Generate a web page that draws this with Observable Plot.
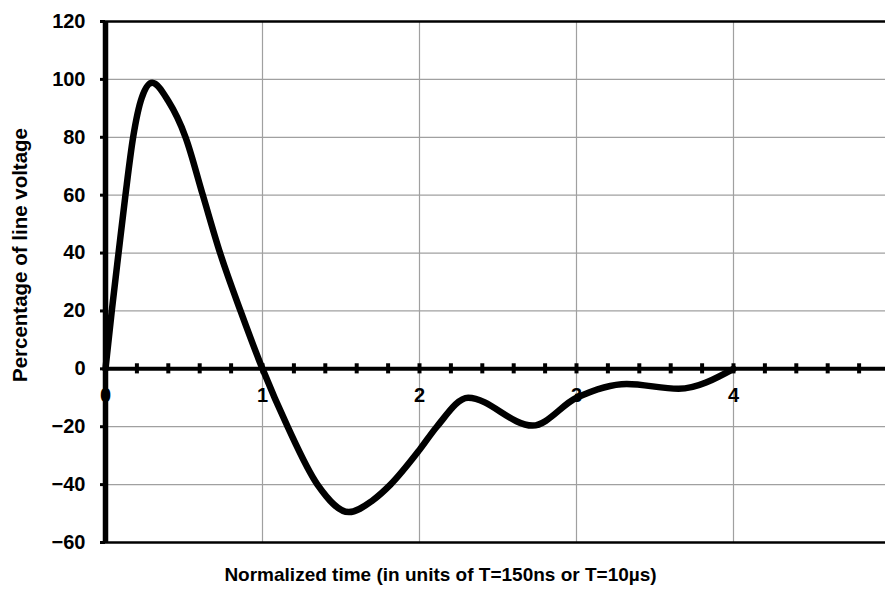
<!DOCTYPE html>
<html><head><meta charset="utf-8">
<script src="https://cdn.jsdelivr.net/npm/d3@7"></script>
<script src="https://cdn.jsdelivr.net/npm/@observablehq/plot@0.6"></script>
<style>
html,body{margin:0;padding:0;background:#fff;}
#chart svg{display:block;}
</style>
</head><body><div id="chart"></div>
<script>
// normalized time (units of T)
const time = [0, 0.04, 0.083, 0.127, 0.176, 0.23, 0.297, 0.40, 0.51, 0.62, 0.73, 0.86, 1.0, 1.16, 1.35, 1.55, 1.7, 1.815, 2.0, 2.11, 2.31, 2.72, 3.0, 3.32, 3.65, 4.0];
// percentage of line voltage
const voltage = [0, 20, 40, 60, 80, 93.5, 98.8, 92.5, 80, 60, 40, 20, 0, -20, -40, -49.5, -45.5, -40, -28, -20, -10, -19.6, -10, -5.2, -6.9, 0];
const yTicks = [-60, -40, -20, 0, 20, 40, 60, 80, 100, 120];
const xLabels = [0, 1, 2, 3, 4];
const xGrid = [1, 2, 3, 4];
const minorTicks = d3.range(0, 25).map(i => i / 5);
const xTitle = "Normalized time (in units of T=150ns or T=10µs)";
const yTitle = "Percentage of line voltage";

const data = time.map((t, i) => ({t, v: voltage[i]}));
const font = "'Liberation Sans', Arial, sans-serif";

const chart = Plot.plot({
  width: 885,
  height: 590,
  marginLeft: 105,
  marginRight: 0,
  marginTop: 21,
  marginBottom: 48,
  style: {fontFamily: font, background: "#fff"},
  x: {domain: [0, (885 - 105) / 157], axis: null},
  y: {domain: [-60, 120], ticks: yTicks, axis: null},
  marks: [
    Plot.gridY(yTicks.filter(d => d > -60 && d < 120), {stroke: "#a0a0a0", strokeOpacity: 1, strokeWidth: 1.2}),
    Plot.gridX(xGrid, {stroke: "#a0a0a0", strokeOpacity: 1, strokeWidth: 1.2}),
    Plot.ruleY([120], {stroke: "#000", strokeWidth: 2.7}),
    Plot.ruleY([-60], {stroke: "#000", strokeWidth: 2.7}),
    Plot.axisY(yTicks, {tickSize: 5, tickPadding: 15, strokeWidth: 3, fontSize: 20, fontWeight: "bold", fill: "#000", label: null}),
    Plot.text(xLabels, {x: d => d, y: 0, dy: 27, text: d => String(d), fontSize: 20, fontWeight: "bold", fill: "#000"}),
    Plot.ruleY([0], {stroke: "#000", strokeWidth: 4}),
    Plot.ruleX(minorTicks, {y1: -1.75, y2: 1.75, stroke: "#000", strokeWidth: 4}),
    Plot.ruleX([0], {stroke: "#000", strokeWidth: 5.5}),
    Plot.line(data, {x: "t", y: "v", curve: "monotone-x", stroke: "#000", strokeWidth: 6.5, strokeLinejoin: "round", strokeLinecap: "round"}),
    Plot.text([xTitle], {frameAnchor: "bottom", dy: 38, dx: -55, text: d => d, fontSize: 19, fontWeight: "bold", fill: "#000"}),
    Plot.text([yTitle], {frameAnchor: "left", textAnchor: "middle", dx: -85, dy: -27, rotate: -90, text: d => d, fontSize: 20.5, fontWeight: "bold", fill: "#000"})
  ]
});
document.getElementById("chart").appendChild(chart);
</script>
</body></html>
